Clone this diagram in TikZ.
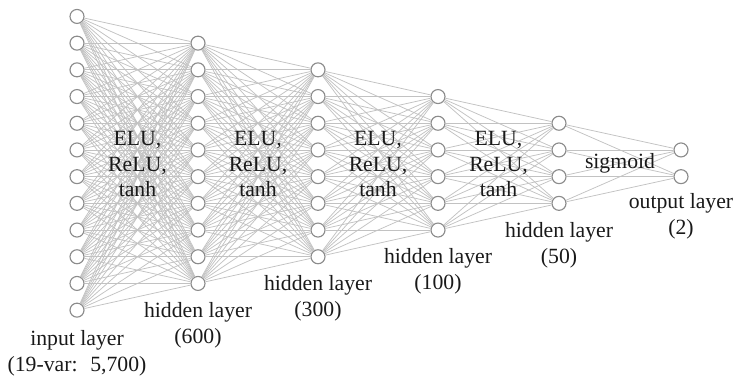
\documentclass[tikz,border=0pt]{standalone}
\usepackage{fontspec}
\setmainfont{Liberation Serif}
\begin{document}
\begin{tikzpicture}[x=1bp,y=-1bp,
  neuron/.style={circle,draw=black!45,fill=white,line width=1.15bp,minimum size=14bp,inner sep=0pt},
  link/.style={draw=black!24,line width=0.75bp},
  lbl/.style={font=\fontsize{21.8}{26}\selectfont,align=center,inner sep=0pt,text=black!90}]
\useasboundingbox (0,0) rectangle (736,376);
% neurons: layer index / x position / number of units drawn
\foreach \l/\x/\cnt in {0/77/12,1/198/10,2/318/8,3/438/6,4/559/4,5/681/2}{
  \foreach \i in {1,...,\cnt}{
    \node[neuron] (n\l-\i) at (\x,{163.3+(\i-(\cnt+1)/2)*26.7}) {};
  }
}
% full connections between consecutive layers
\foreach \a/\na/\b/\nb in {0/12/1/10,1/10/2/8,2/8/3/6,3/6/4/4,4/4/5/2}{
  \foreach \i in {1,...,\na}{
    \foreach \j in {1,...,\nb}{
      \draw[link] (n\a-\i) -- (n\b-\j);
    }
  }
}
% activation functions between layers
\node[lbl] (act1) at (137.5,164) {ELU,\\ReLU,\\tanh};
\node[lbl] (act2) at (258,164) {ELU,\\ReLU,\\tanh};
\node[lbl] (act3) at (378,164) {ELU,\\ReLU,\\tanh};
\node[lbl] (act4) at (498.5,164) {ELU,\\ReLU,\\tanh};
\node[lbl] (act5) at (620,163) {sigmoid};
% layer captions below the lowest unit of each layer
\node[lbl,anchor=north] (cap0) at ([yshift=-20.5bp]n0-12.center) {input layer\\(19-var:~ 5,700)};
\node[lbl,anchor=north] (cap1) at ([yshift=-18.5bp]n1-10.center) {hidden layer\\(600)};
\node[lbl,anchor=north] (cap2) at ([yshift=-18.5bp]n2-8.center) {hidden layer\\(300)};
\node[lbl,anchor=north] (cap3) at ([yshift=-18.5bp]n3-6.center) {hidden layer\\(100)};
\node[lbl,anchor=north] (cap4) at ([yshift=-18.5bp]n4-4.center) {hidden layer\\(50)};
\node[lbl,anchor=north] (cap5) at ([yshift=-17bp]n5-2.center) {output layer\\(2)};
\end{tikzpicture}
\end{document}
